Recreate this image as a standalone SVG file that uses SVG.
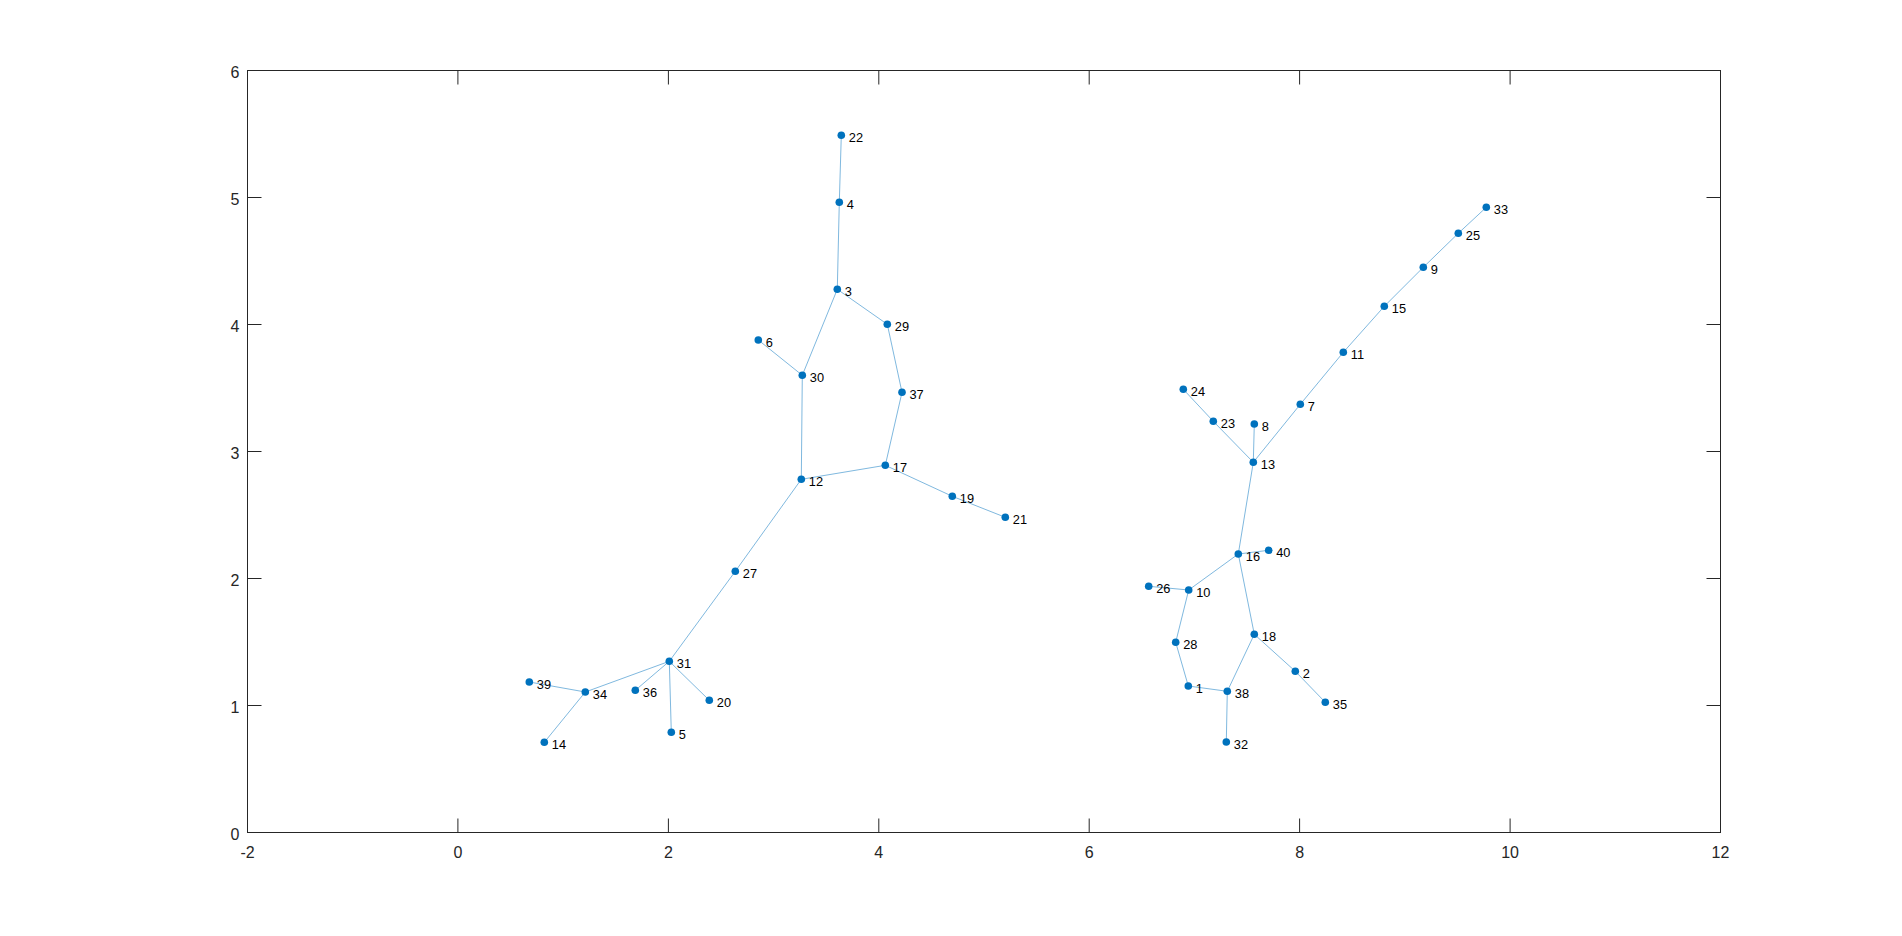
<svg xmlns="http://www.w3.org/2000/svg" width="1902" height="936" viewBox="0 0 1902 936">
<style>
.ax{stroke:#262626;stroke-width:1;fill:none}
.tl{font-family:"Liberation Sans",Arial,sans-serif;font-size:16px;fill:#262626}
.e{stroke:#0072BD;stroke-opacity:0.5;stroke-width:1;fill:none}
.n circle{fill:#0072BD}
.n text{font-family:"Liberation Sans",Arial,sans-serif;font-size:12.8px;fill:#000}
</style>
<rect width="1902" height="936" fill="#fff"/>
<g id="axes">
<rect class="ax" x="247.5" y="70.5" width="1473" height="762"/>
<path class="ax" d="M457.9,832.5v-14M668.4,832.5v-14M878.8,832.5v-14M1089.2,832.5v-14M1299.6,832.5v-14M1510.1,832.5v-14
M457.9,70.5v14M668.4,70.5v14M878.8,70.5v14M1089.2,70.5v14M1299.6,70.5v14M1510.1,70.5v14
M247.5,705.5h14M247.5,578.5h14M247.5,451.5h14M247.5,324.5h14M247.5,197.5h14
M1720.5,705.5h-14M1720.5,578.5h-14M1720.5,451.5h-14M1720.5,324.5h-14M1720.5,197.5h-14"/>
<g class="tl" text-anchor="middle">
<text x="247.5" y="858">-2</text><text x="457.9" y="858">0</text><text x="668.4" y="858">2</text><text x="878.8" y="858">4</text><text x="1089.2" y="858">6</text><text x="1299.6" y="858">8</text><text x="1510.1" y="858">10</text><text x="1720.5" y="858">12</text>
</g>
<g class="tl" text-anchor="end">
<text x="239.5" y="840">0</text><text x="239.5" y="713">1</text><text x="239.5" y="586">2</text><text x="239.5" y="459">3</text><text x="239.5" y="332">4</text><text x="239.5" y="205">5</text><text x="239.5" y="78">6</text>
</g>
</g>
<g id="edges">
<path class="e" d="M841.3,135.3L839.3,202.3M839.3,202.3L837.3,289.3M837.3,289.3L887.3,324.3M837.3,289.3L802.3,375.3M758.3,340L802.3,375.3M802.3,375.3L801.3,479.3M887.3,324.3L902,392.3M902,392.3L885.3,465.3M801.3,479.3L885.3,465.3M885.3,465.3L952.3,496.3M952.3,496.3L1005.3,517.3M801.3,479.3L735.3,571.3M735.3,571.3L669.3,661.3M669.3,661.3L585.3,692M669.3,661.3L635.3,690.3M669.3,661.3L671.3,732.3M669.3,661.3L709.3,700.3M585.3,692L529.3,682M585.3,692L544.3,742.3"/>
<path class="e" d="M1486.3,207.3L1458.3,233.3M1458.3,233.3L1423.3,267.3M1423.3,267.3L1384.3,306.3M1384.3,306.3L1343.3,352.3M1343.3,352.3L1300.3,404.3M1300.3,404.3L1253.3,462.3M1183.3,389.3L1213.3,421.3M1213.3,421.3L1253.3,462.3M1254.3,424L1253.3,462.3M1253.3,462.3L1238.3,554M1238.3,554L1268.7,550.3M1238.3,554L1188.7,590M1188.7,590L1148.7,586.3M1188.7,590L1175.7,642.3M1175.7,642.3L1188.3,686M1188.3,686L1227.3,691.3M1227.3,691.3L1226.3,742M1227.3,691.3L1254.3,634.3M1254.3,634.3L1238.3,554M1254.3,634.3L1295.3,671.3M1295.3,671.3L1325.3,702.3"/>
</g>
<g id="node1" class="n"><circle cx="1188.3" cy="686" r="3.8"/><text x="1195.8" y="692.8">1</text></g>
<g id="node2" class="n"><circle cx="1295.3" cy="671.3" r="3.8"/><text x="1302.8" y="678.1">2</text></g>
<g id="node3" class="n"><circle cx="837.3" cy="289.3" r="3.8"/><text x="844.8" y="296.1">3</text></g>
<g id="node4" class="n"><circle cx="839.3" cy="202.3" r="3.8"/><text x="846.8" y="209.1">4</text></g>
<g id="node5" class="n"><circle cx="671.3" cy="732.3" r="3.8"/><text x="678.8" y="739.1">5</text></g>
<g id="node6" class="n"><circle cx="758.3" cy="340" r="3.8"/><text x="765.8" y="346.8">6</text></g>
<g id="node7" class="n"><circle cx="1300.3" cy="404.3" r="3.8"/><text x="1307.8" y="411.1">7</text></g>
<g id="node8" class="n"><circle cx="1254.3" cy="424" r="3.8"/><text x="1261.8" y="430.8">8</text></g>
<g id="node9" class="n"><circle cx="1423.3" cy="267.3" r="3.8"/><text x="1430.8" y="274.1">9</text></g>
<g id="node10" class="n"><circle cx="1188.7" cy="590" r="3.8"/><text x="1196.2" y="596.8">10</text></g>
<g id="node11" class="n"><circle cx="1343.3" cy="352.3" r="3.8"/><text x="1350.8" y="359.1">11</text></g>
<g id="node12" class="n"><circle cx="801.3" cy="479.3" r="3.8"/><text x="808.8" y="486.1">12</text></g>
<g id="node13" class="n"><circle cx="1253.3" cy="462.3" r="3.8"/><text x="1260.8" y="469.1">13</text></g>
<g id="node14" class="n"><circle cx="544.3" cy="742.3" r="3.8"/><text x="551.8" y="749.1">14</text></g>
<g id="node15" class="n"><circle cx="1384.3" cy="306.3" r="3.8"/><text x="1391.8" y="313.1">15</text></g>
<g id="node16" class="n"><circle cx="1238.3" cy="554" r="3.8"/><text x="1245.8" y="560.8">16</text></g>
<g id="node17" class="n"><circle cx="885.3" cy="465.3" r="3.8"/><text x="892.8" y="472.1">17</text></g>
<g id="node18" class="n"><circle cx="1254.3" cy="634.3" r="3.8"/><text x="1261.8" y="641.1">18</text></g>
<g id="node19" class="n"><circle cx="952.3" cy="496.3" r="3.8"/><text x="959.8" y="503.1">19</text></g>
<g id="node20" class="n"><circle cx="709.3" cy="700.3" r="3.8"/><text x="716.8" y="707.1">20</text></g>
<g id="node21" class="n"><circle cx="1005.3" cy="517.3" r="3.8"/><text x="1012.8" y="524.1">21</text></g>
<g id="node22" class="n"><circle cx="841.3" cy="135.3" r="3.8"/><text x="848.8" y="142.1">22</text></g>
<g id="node23" class="n"><circle cx="1213.3" cy="421.3" r="3.8"/><text x="1220.8" y="428.1">23</text></g>
<g id="node24" class="n"><circle cx="1183.3" cy="389.3" r="3.8"/><text x="1190.8" y="396.1">24</text></g>
<g id="node25" class="n"><circle cx="1458.3" cy="233.3" r="3.8"/><text x="1465.8" y="240.1">25</text></g>
<g id="node26" class="n"><circle cx="1148.7" cy="586.3" r="3.8"/><text x="1156.2" y="593.1">26</text></g>
<g id="node27" class="n"><circle cx="735.3" cy="571.3" r="3.8"/><text x="742.8" y="578.1">27</text></g>
<g id="node28" class="n"><circle cx="1175.7" cy="642.3" r="3.8"/><text x="1183.2" y="649.1">28</text></g>
<g id="node29" class="n"><circle cx="887.3" cy="324.3" r="3.8"/><text x="894.8" y="331.1">29</text></g>
<g id="node30" class="n"><circle cx="802.3" cy="375.3" r="3.8"/><text x="809.8" y="382.1">30</text></g>
<g id="node31" class="n"><circle cx="669.3" cy="661.3" r="3.8"/><text x="676.8" y="668.1">31</text></g>
<g id="node32" class="n"><circle cx="1226.3" cy="742" r="3.8"/><text x="1233.8" y="748.8">32</text></g>
<g id="node33" class="n"><circle cx="1486.3" cy="207.3" r="3.8"/><text x="1493.8" y="214.1">33</text></g>
<g id="node34" class="n"><circle cx="585.3" cy="692" r="3.8"/><text x="592.8" y="698.8">34</text></g>
<g id="node35" class="n"><circle cx="1325.3" cy="702.3" r="3.8"/><text x="1332.8" y="709.1">35</text></g>
<g id="node36" class="n"><circle cx="635.3" cy="690.3" r="3.8"/><text x="642.8" y="697.1">36</text></g>
<g id="node37" class="n"><circle cx="902" cy="392.3" r="3.8"/><text x="909.5" y="399.1">37</text></g>
<g id="node38" class="n"><circle cx="1227.3" cy="691.3" r="3.8"/><text x="1234.8" y="698.1">38</text></g>
<g id="node39" class="n"><circle cx="529.3" cy="682" r="3.8"/><text x="536.8" y="688.8">39</text></g>
<g id="node40" class="n"><circle cx="1268.7" cy="550.3" r="3.8"/><text x="1276.2" y="557.1">40</text></g>
</svg>
